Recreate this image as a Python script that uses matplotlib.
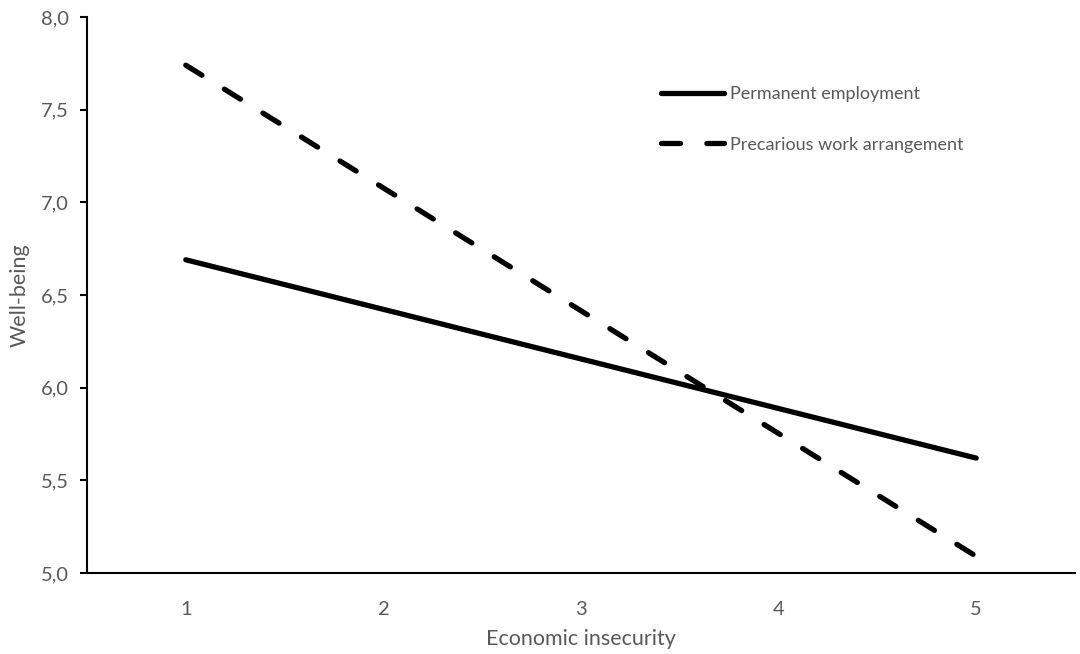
import matplotlib
matplotlib.use("Agg")
import matplotlib.pyplot as plt

plt.rcParams['font.family'] = ['Lato', 'DejaVu Sans']

x_vals = [1, 5]
permanent = [6.69, 5.62]
precarious = [7.74, 5.09]
series_labels = ["Permanent employment", "Precarious work arrangement"]
x_ticks = [1, 2, 3, 4, 5]
y_ticks = [5.0, 5.5, 6.0, 6.5, 7.0, 7.5, 8.0]
y_tick_labels = ["5,0", "5,5", "6,0", "6,5", "7,0", "7,5", "8,0"]

grey = "#595959"
fig = plt.figure(figsize=(10.8, 6.54), dpi=100)
ax = fig.add_axes([87/1080, 1-573/654, (1075-87)/1080, (573-17)/654])

ax.plot(x_vals, permanent, color="black", lw=3.8, solid_capstyle="round",
        label=series_labels[0])
ax.plot(x_vals, precarious, color="black", lw=3.8, dash_capstyle="round",
        linestyle=(0, (3.6, 5.0)), label=series_labels[1])

ax.set_xlim(0.5, 5.5)
ax.set_ylim(5.0, 8.0)
ax.set_xticks(x_ticks)
ax.set_xticklabels([str(v) for v in x_ticks])
ax.set_yticks(y_ticks)
ax.set_yticklabels(y_tick_labels)

for s in ["top", "right"]:
    ax.spines[s].set_visible(False)
for s in ["left", "bottom"]:
    ax.spines[s].set_linewidth(1.5)

ax.tick_params(axis="x", length=0, pad=20, labelsize=14.5, labelcolor=grey)
ax.tick_params(axis="y", length=5, width=1.5, direction="out", pad=8,
               labelsize=14.5, labelcolor=grey)

ax.set_xlabel("Economic insecurity", fontsize=15.5, color=grey, labelpad=8)
ax.set_ylabel("Well-being", fontsize=15.5, color=grey, labelpad=8)

leg = ax.legend(loc="upper left", bbox_to_anchor=(645/1080, 1-70/654),
                bbox_transform=fig.transFigure, frameon=False,
                handlelength=3.5, handletextpad=0.3, labelspacing=1.9,
                fontsize=13)
for t in leg.get_texts():
    t.set_color(grey)

fig.savefig("out.png", dpi=100)
